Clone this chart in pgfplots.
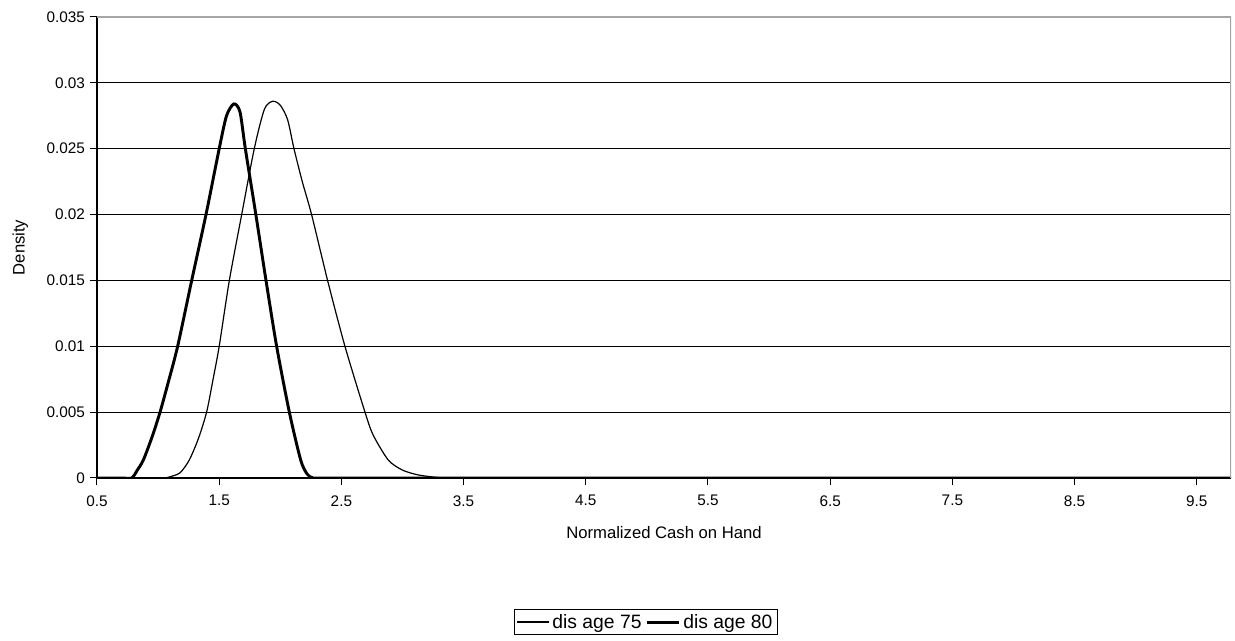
\documentclass[border=0pt]{standalone}
\usepackage{pgfplots}
\pgfplotsset{compat=1.18}
\usepackage{fontspec}
\setmainfont{Liberation Sans}
\begin{document}
\begin{tikzpicture}
\useasboundingbox (-72.75pt,-122.25pt) rectangle (853.5pt,358.5pt);
\begin{axis}[
  at={(0,0)}, anchor=south west,
  scale only axis,
  width=850.5pt, height=345.75pt,
  xmin=0.5, xmax=9.78,
  ymin=0, ymax=0.035,
  xtick={0.5,1.5,...,9.5},
  ytick={0,0.005,...,0.035},
  yticklabels={0,0.005,0.01,0.015,0.02,0.025,0.03,0.035},
  scaled y ticks=false,
  ymajorgrids,
  grid style={black, line width=0.75pt},
  axis x line*=bottom, axis y line*=left,
  axis line style={black, line width=0.9pt},
  tick style={black, line width=0.75pt},
  tick align=outside,
  major tick length=5.5pt,
  xticklabel style={font=\fontsize{11.5}{13}\selectfont, yshift=-4pt, /pgf/number format/.cd, fixed, precision=1, zerofill},
  yticklabel style={font=\fontsize{11.5}{13}\selectfont},
  /pgf/number format/assume math mode=true,
  xlabel={Normalized Cash on Hand},
  ylabel={Density},
  xlabel style={font=\fontsize{12.5}{14}\selectfont, yshift=-8pt},
  ylabel style={font=\fontsize{12.5}{14}\selectfont, yshift=7pt},
  legend style={at={(0.484,-0.284)}, anchor=north, legend columns=2,
    font=\fontsize{14.5}{16}\selectfont, draw=black, line width=0.75pt,
    inner sep=1.5pt, /tikz/every even column/.append style={column sep=1pt}},
  legend image code/.code={\draw[#1] (0pt,0pt) -- (24pt,0pt);},
]
\addplot[black, line width=0.9pt, smooth, tension=0.45] coordinates {
(0.5,0) (0.8,0) (1.0,0) (1.05,0) (1.1,0.0001) (1.18,0.0004) (1.255,0.00136) (1.33,0.0030) (1.397,0.005) (1.45,0.0075) (1.50,0.01) (1.583,0.015) (1.684,0.02) (1.787,0.025) (1.87,0.0280) (1.938,0.0286) (2.0,0.0283) (2.06,0.0272) (2.112,0.025) (2.18,0.0225) (2.256,0.02) (2.387,0.015) (2.529,0.01) (2.693,0.005) (2.76,0.00326) (2.884,0.00136) (3.0,0.0006) (3.13,0.00023) (3.3,0.00003) (3.45,0) (4,0) (5,0) (6,0) (7,0) (8,0) (9,0) (9.78,0)
};
\addlegendentry{dis age 75}
\addplot[black, line width=2.2pt, smooth, tension=0.45] coordinates {
(0.5,0) (0.7,0) (0.784,0) (0.83,0.0006) (0.879,0.00136) (0.95,0.0031) (1.016,0.005) (1.09,0.0075) (1.16,0.01) (1.275,0.015) (1.392,0.02) (1.50,0.025) (1.56,0.0275) (1.62,0.0284) (1.67,0.0278) (1.714,0.025) (1.80,0.02) (1.883,0.015) (1.97,0.01) (2.074,0.005) (2.167,0.00136) (2.22,0.0003) (2.27,0) (2.4,0) (2.6,0) (3,0) (4,0) (5,0) (6,0) (7,0) (8,0) (9,0) (9.78,0)
};
\addlegendentry{dis age 80}
\draw[gray!70, line width=0.9pt] (rel axis cs:0,1) -- (rel axis cs:1,1) -- (rel axis cs:1,0);
\end{axis}
\end{tikzpicture}
\end{document}
